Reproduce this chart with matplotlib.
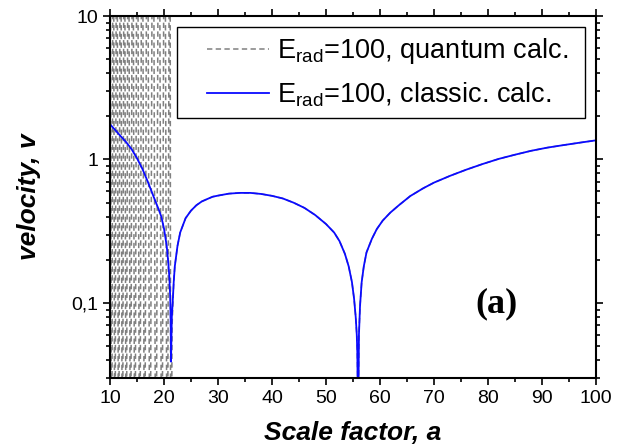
import numpy as np
import matplotlib
matplotlib.use("Agg")
import matplotlib.pyplot as plt
from matplotlib.patches import Rectangle
from matplotlib.ticker import MultipleLocator, LogLocator, FixedLocator, FixedFormatter, NullFormatter

plt.rcParams['font.family'] = 'Liberation Sans'
plt.rcParams['mathtext.fontset'] = 'custom'
plt.rcParams['mathtext.rm'] = 'Liberation Sans'

# classical solution
classic_a = [10.0, 11.0, 12.0, 13.0, 14.0, 15.0, 16.0, 17.0, 18.0, 19.0,
             19.5, 20.0, 20.5, 20.8, 21.0, 21.15, 21.25, 21.3,
             21.35, 21.45, 21.6, 21.8, 22.0, 22.5, 23.0, 24.0, 25.0, 26.0,
             27.0, 28.0, 29.0, 30.0, 32.0, 34.0, 36.0, 38.0, 40.0, 42.0,
             44.0, 46.0, 48.0, 50.0, 51.5, 52.5, 53.5, 54.2, 54.8, 55.2,
             55.5, 55.7, 55.8, 55.9, 56.0, 56.1, 56.3, 56.6, 57.0, 57.5,
             58.5, 59.4, 60.5, 61.9, 63.5, 65.6, 68.0, 70.0, 73.0, 76.0,
             79.0, 82.0, 85.0, 88.0, 91.0, 94.0, 97.0, 100.0]
classic_v = [1.76, 1.60, 1.45, 1.32, 1.18, 1.02, 0.86, 0.70, 0.56, 0.45,
             0.40, 0.33, 0.25, 0.19, 0.15, 0.11, 0.07, 0.039,
             0.05, 0.08, 0.10, 0.14, 0.18, 0.25, 0.31, 0.39, 0.44, 0.48,
             0.51, 0.53, 0.55, 0.56, 0.578, 0.585, 0.585, 0.575, 0.558, 0.535,
             0.50, 0.46, 0.41, 0.355, 0.31, 0.27, 0.22, 0.18, 0.14, 0.107,
             0.08, 0.06, 0.045, 0.02, 0.02, 0.06, 0.095, 0.139, 0.18, 0.225,
             0.28, 0.327, 0.375, 0.426, 0.48, 0.556, 0.63, 0.69, 0.77, 0.85,
             0.93, 1.01, 1.08, 1.15, 1.21, 1.26, 1.31, 1.36]

# quantum solution: turning points of the fast oscillation below a~21
quantum_osc_a = [10.0, 10.3, 10.6, 10.9, 11.25, 11.6, 11.95, 12.3, 12.65,
                 13.0, 13.4, 13.8, 14.2, 14.6, 15.05, 15.5, 15.95, 16.4,
                 16.9, 17.4, 17.95, 18.5, 19.05, 19.6, 20.1, 20.6, 21.1]
quantum_osc_v = [1e3, 1e-3, 1e3, 1e-3, 1e3, 1e-3, 1e3, 1e-3, 1e3,
                 1e-3, 1e3, 1e-3, 1e3, 1e-3, 1e3, 1e-3, 1e3, 1e-3,
                 1e3, 1e-3, 1e3, 1e-3, 1e3, 1e-3, 1e3, 1e-3, 1e3]
quantum_tail_a = [21.25, 21.5, 21.8]
quantum_tail_v = [1e-3, 0.07, 0.14]

quantum_a = quantum_osc_a + quantum_tail_a + [a for a in classic_a if a > 21.8]
quantum_v = quantum_osc_v + quantum_tail_v + [v for a, v in zip(classic_a, classic_v) if a > 21.8]

ytick_vals = [0.1, 1, 10]
ytick_labels = ['0,1', '1', '10']

fig = plt.figure(figsize=(6.25, 4.45), dpi=100)
ax = fig.add_axes([0.176, 0.1506, 0.7776, 0.8134])

ax.plot(quantum_a, quantum_v, color='#808080', lw=1.1, ls=(0, (3.5, 2.2)),
        label=r'$\mathrm{E_{rad}}$=100, quantum calc.')
ax.plot(classic_a, classic_v, color='#0a0aff', lw=1.3,
        label=r'$\mathrm{E_{rad}}$=100, classic. calc.')

ax.set_yscale('log')
ax.set_xlim(10, 100)
ax.set_ylim(0.03, 10)

ax.xaxis.set_major_locator(MultipleLocator(10))
ax.xaxis.set_minor_locator(MultipleLocator(5))
ax.yaxis.set_major_locator(FixedLocator(ytick_vals))
ax.yaxis.set_major_formatter(FixedFormatter(ytick_labels))
ax.yaxis.set_minor_locator(LogLocator(base=10, subs=np.arange(2, 10)))
ax.yaxis.set_minor_formatter(NullFormatter())

ax.tick_params(which='both', direction='out', top=True, right=True, labelsize=14, width=1.2)
ax.tick_params(which='major', length=5)
ax.tick_params(which='minor', length=3)
for s in ax.spines.values():
    s.set_linewidth(1.5)

ax.set_xlabel('Scale factor, a', fontsize=19, fontweight='bold', fontstyle='italic', labelpad=10)
ax.set_ylabel('velocity, v', fontsize=19, fontweight='bold', fontstyle='italic', labelpad=22)

# legend without its own frame, box drawn by hand so the margins can differ
leg = ax.legend(loc='upper right', bbox_to_anchor=(0.9615, 0.970), borderaxespad=0,
                fontsize=19.5, handlelength=2.29, handletextpad=0.3, labelspacing=0.54,
                frameon=False, borderpad=0.34)
fig.canvas.draw()
bb = leg.get_window_extent()
pad_left, pad_right = 21, 8
x0, y0 = fig.transFigure.inverted().transform((bb.x0 - pad_left, bb.y0))
x1, y1 = fig.transFigure.inverted().transform((bb.x1 + pad_right, bb.y1))
fig.add_artist(Rectangle((x0, y0), x1 - x0, y1 - y0, transform=fig.transFigure,
                         fill=False, ec='black', lw=1.0, zorder=5))

ax.text(0.795, 0.205, '(a)', transform=ax.transAxes, fontsize=26, fontweight='bold',
        family='Liberation Serif', ha='center', va='center')

fig.savefig('out.png', dpi=100)
